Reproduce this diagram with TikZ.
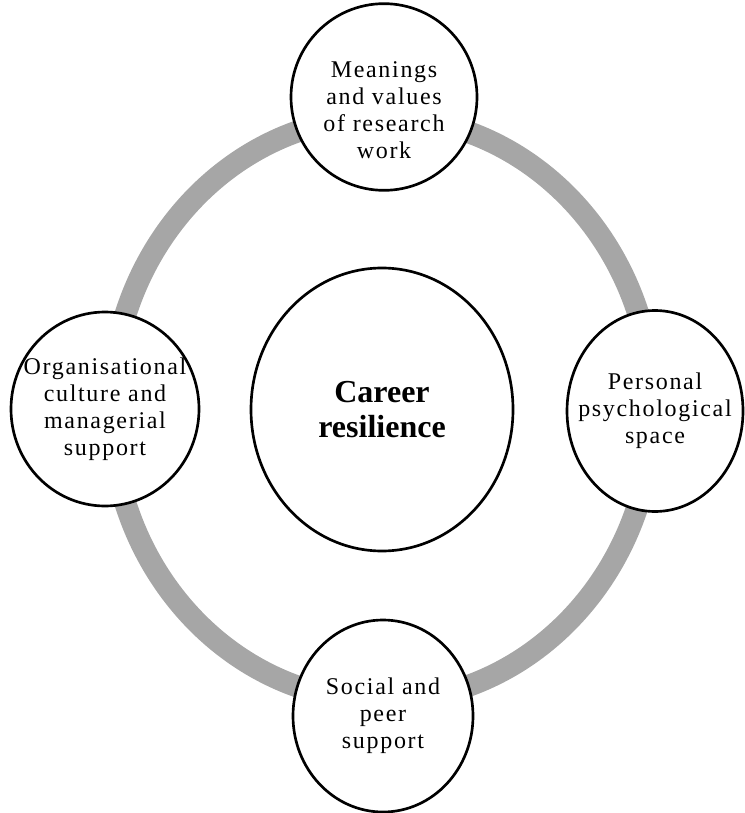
\documentclass[tikz,border=0pt]{standalone}
\usepackage{fontspec}
\setmainfont{Liberation Serif}
\newfontfamily\labelfont[LetterSpace=7]{Liberation Serif}
\usetikzlibrary{shapes.geometric}
\definecolor{ringgray}{RGB}{166,166,166}

\begin{document}
\begin{tikzpicture}[x=0.75pt, y=-0.75pt]
    \tikzstyle{bubble}=[ellipse, draw, fill=white, line width=2pt, inner sep=0pt]
    \tikzstyle{txt}=[align=center, inner sep=0pt, font=\labelfont\fontsize{18}{20.25}\selectfont]
    \tikzstyle{core}=[align=center, inner sep=0pt, font=\bfseries\fontsize{24}{26.25}\selectfont]
    \tikzstyle{ring}=[draw=ringgray, line width=16.5pt]

    \useasboundingbox (0,0) rectangle (744,813);

    % grey loop behind the five bubbles
    \path[ring] (382,409) ellipse [x radius=271, y radius=292];

    \node[bubble, minimum width=196.5pt, minimum height=212.25pt] (career) at (382,409.5) {};
    \node[bubble, minimum width=139.5pt, minimum height=140pt] (meaning) at (384,97) {};
    \node[bubble, minimum width=141pt, minimum height=145.5pt] (culture) at (105,409) {};
    \node[bubble, minimum width=132pt, minimum height=150.75pt] (space) at (655,411) {};
    \node[bubble, minimum width=135pt, minimum height=144pt] (peer) at (383,716) {};

    \node[core] at (career) {Career\\resilience};
    \node[txt] at ([yshift=-10pt]meaning) {Meanings\\and values\\of research\\work};
    \node[txt] at (culture) {Organisational\\culture and\\managerial\\support};
    \node[txt] at (space) {Personal\\psychological\\space};
    \node[txt] at (peer) {Social and\\peer\\support};
\end{tikzpicture}
\end{document}
